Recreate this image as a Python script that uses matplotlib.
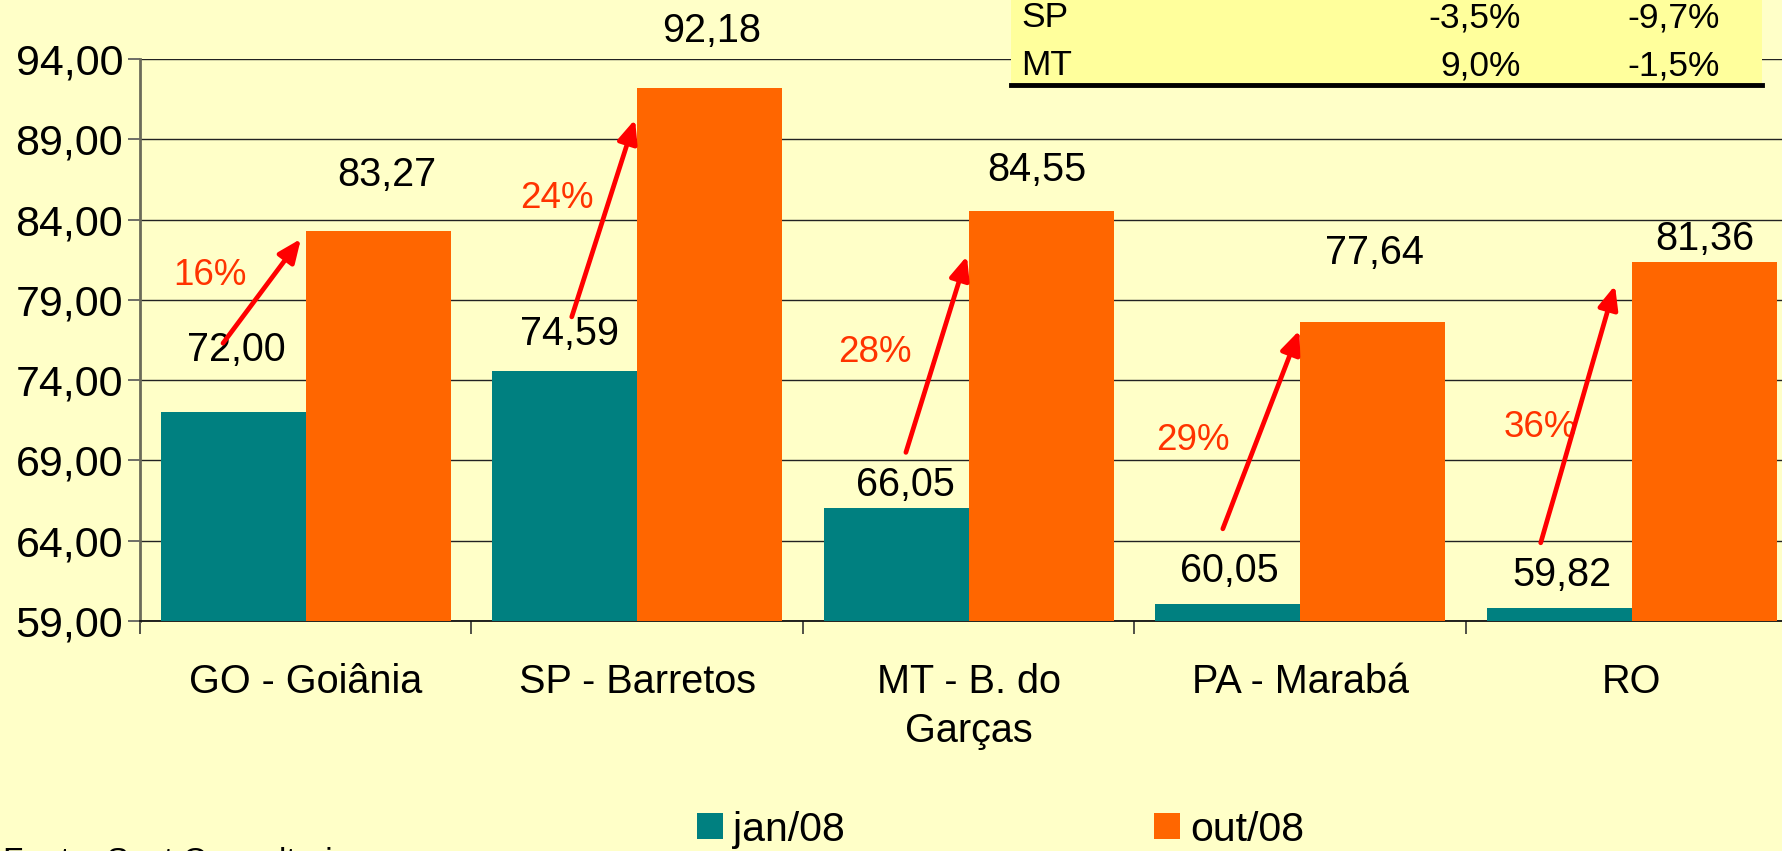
import matplotlib
matplotlib.use("Agg")
import matplotlib.pyplot as plt
from matplotlib.patches import Patch, Rectangle
import numpy as np

plt.rcParams['font.family'] = ['Liberation Sans', 'DejaVu Sans']

# ---------------- data ----------------
categories = ["GO - Goiânia", "SP - Barretos", "MT - B. do\nGarças", "PA - Marabá", "RO"]
series_names = ["jan/08", "out/08"]
jan08 = [72.00, 74.59, 66.05, 60.05, 59.82]
out08 = [83.27, 92.18, 84.55, 77.64, 81.36]
pct_labels = ["16%", "24%", "28%", "29%", "36%"]
yticks = [59, 64, 69, 74, 79, 84, 89, 94]

table_rows = ["SP", "MT"]
table_col1 = ["-3,5%", "9,0%"]
table_col2 = ["-9,7%", "-1,5%"]
footnote = "Fonte: Scot Consultoria"

# annotation placement (data coords)
jan_lbl_dx = [0.01, 0.014, 0.027, 0.005, 0.009]
jan_lbl_y = [75.85, 76.9, 67.5, 62.1, 61.85]
out_lbl_dx = [0.026, 0.006, -0.014, 0.005, 0.003]
out_lbl_y = [86.8, 95.75, 87.1, 81.9, 82.8]
pct_x_off = [-0.287, -0.241, -0.282, -0.323, -0.276]
pct_y = [80.5, 85.3, 75.7, 70.25, 71.05]
arr_start = [(-0.249, 76.3), (-0.197, 77.94), (-0.189, 69.5), (-0.233, 64.74), (-0.274, 63.87)]
arr_end = [(-0.014, 82.8), (-0.006, 90.24), (-0.005, 81.73), (-0.002, 77.1), (-0.05, 79.9)]

# ---------------- style ----------------
BG = "#FFFFC8"
TEAL = "#008080"
ORANGE = "#FF6600"
PCT = "#FF3300"
W, H = 1782, 851

fig = plt.figure(figsize=(W / 100, H / 100), dpi=100, facecolor=BG)
ax = fig.add_axes([139.8 / W, 1 - 621 / H, 5 * 331.5 / W, (621 - 59) / H])
ax.set_facecolor(BG)

x = np.arange(len(categories))
bw = 0.4375
ax.bar(x - bw / 2, jan08, bw, color=TEAL, zorder=3, label=series_names[0])
ax.bar(x + bw / 2, out08, bw, color=ORANGE, zorder=3, label=series_names[1])

ax.set_xlim(-0.5, len(categories) - 0.5)
ax.set_ylim(59, 94)
ax.set_yticks(yticks)
ax.set_yticklabels([f"{v:.2f}".replace(".", ",") for v in yticks], fontsize=31)
ax.yaxis.grid(True, color="#222222", lw=1.0, zorder=1)
ax.set_axisbelow(True)

ax.set_xticks(np.arange(len(categories) + 1) - 0.5, minor=False)
ax.set_xticklabels([])
ax.set_xticks(x, minor=True)
ax.set_xticklabels(categories, minor=True, fontsize=28.5, linespacing=1.37)
ax.tick_params(axis="x", which="major", length=9, width=1.2, color="#333333", direction="out")
ax.tick_params(axis="x", which="minor", length=0, pad=30)
ax.tick_params(axis="y", length=9, width=1.2, color="#555555", pad=3)

for s in ["top", "right"]:
    ax.spines[s].set_visible(False)
ax.spines["left"].set_color("#6b6b5a")
ax.spines["left"].set_linewidth(2)
ax.spines["bottom"].set_color("#111111")
ax.spines["bottom"].set_linewidth(1.3)

fmt = lambda v: f"{v:.2f}".replace(".", ",")
for i in range(len(categories)):
    ax.text(x[i] - bw / 2 + jan_lbl_dx[i], jan_lbl_y[i], fmt(jan08[i]), ha="center", va="center",
            fontsize=28.5, color="black", zorder=5, clip_on=False)
    ax.text(x[i] + bw / 2 + out_lbl_dx[i], out_lbl_y[i], fmt(out08[i]), ha="center", va="center",
            fontsize=28.5, color="black", zorder=5, clip_on=False)
    ax.annotate("", xy=(x[i] + arr_end[i][0], arr_end[i][1]),
                xytext=(x[i] + arr_start[i][0], arr_start[i][1]),
                arrowprops=dict(arrowstyle="-|>,head_length=0.7,head_width=0.3", color="#FF0000",
                                lw=3.4, mutation_scale=20, shrinkA=0, shrinkB=0), zorder=6)
    ax.text(x[i] + pct_x_off[i], pct_y[i], pct_labels[i], ha="center", va="center",
            fontsize=26.5, color=PCT, zorder=5)

# table (top right)
fig.patches.append(Rectangle((1011 / W, 1 - 85 / H), (1762 - 1011) / W, 85 / H + 0.01,
                             transform=fig.transFigure, facecolor="#FFFF9C", edgecolor="none", zorder=10))
fig.lines.append(plt.Line2D([1011 / W, 1762 / W], [1 - 85 / H, 1 - 85 / H], transform=fig.transFigure,
                            color="black", lw=3.5, zorder=11))
row_base = [27, 75]
for r in range(len(table_rows)):
    yb = 1 - row_base[r] / H
    fig.text(1021 / W, yb, table_rows[r], ha="left", va="baseline", fontsize=25.5, zorder=12)
    fig.text(1521 / W, yb, table_col1[r], ha="right", va="baseline", fontsize=25.5, zorder=12)
    fig.text(1720 / W, yb, table_col2[r], ha="right", va="baseline", fontsize=25.5, zorder=12)

# legend
handles = [Patch(facecolor=TEAL, edgecolor="none"), Patch(facecolor=ORANGE, edgecolor="none")]
fig.legend(handles, series_names, ncol=2, loc="lower left", bbox_to_anchor=(677 / W, -18 / H),
           frameon=False, fontsize=29.5, handlelength=0.62, handleheight=0.62,
           handletextpad=0.25, columnspacing=7.55, borderpad=0)

# footnote (mostly cut off at the bottom, as in the source image)
fig.text(3 / W, 1 - 871 / H, footnote, ha="left", va="baseline", fontsize=24)

fig.savefig("out.png", dpi=100, facecolor=BG)
